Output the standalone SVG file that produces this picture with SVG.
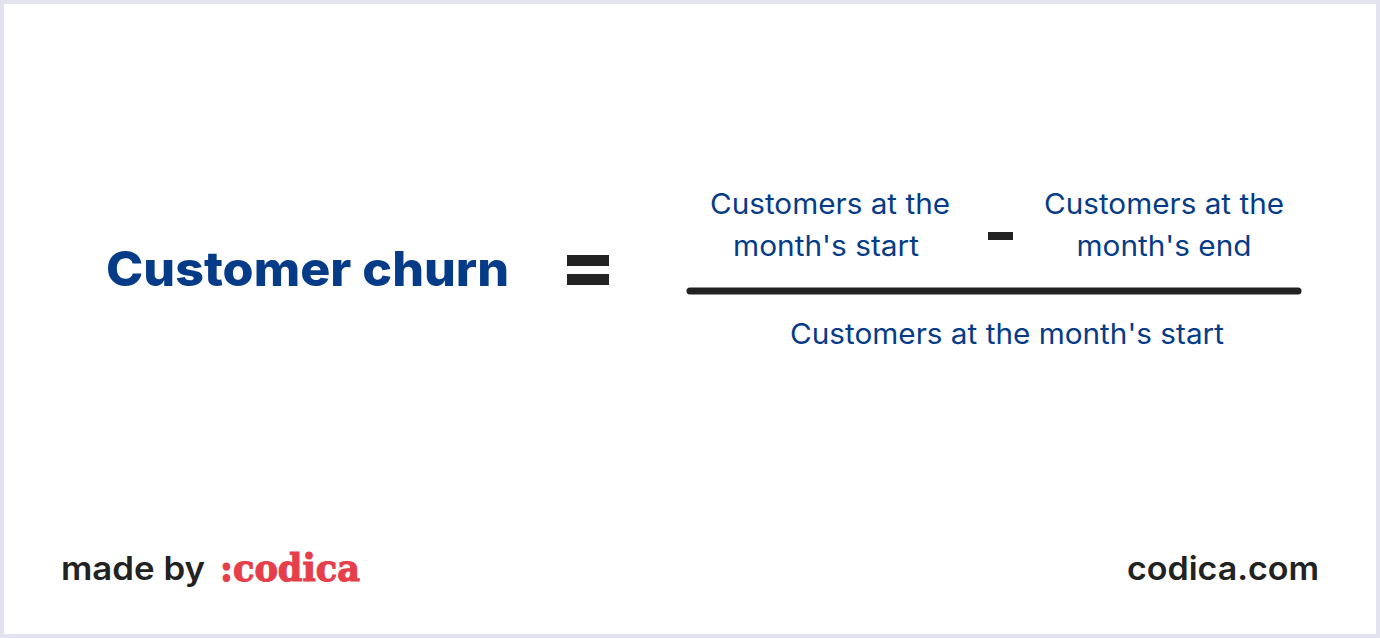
<svg xmlns="http://www.w3.org/2000/svg" width="1380" height="638" viewBox="0 0 1380 638">
<style>
.b{fill:#063c87;font-size:28px;text-anchor:middle;font-weight:400;font-family:"Inter","Open Sans",sans-serif}
.k{fill:#222222;font-size:32px;font-weight:600;font-family:"Inter","Open Sans",sans-serif}
.s{fill:#222222}
</style>
<rect x="2" y="2" width="1376" height="634" fill="#fff" stroke="#e3e3f0" stroke-width="4"/>
<g id="title"><text x="106" y="286" style="fill:#063c87;font-size:48px;font-weight:800;font-family:Inter,sans-serif" textLength="403" lengthAdjust="spacingAndGlyphs">Customer churn</text></g>
<g id="equals"><rect class="s" x="567" y="255" width="42" height="11"/><rect class="s" x="567" y="274" width="42" height="11"/></g>
<g id="a"><text class="b" x="830" y="214" textLength="240" lengthAdjust="spacingAndGlyphs">Customers at the</text><text class="b" x="826" y="256" textLength="186" lengthAdjust="spacingAndGlyphs">month's start</text></g>
<g id="minus"><rect class="s" x="988" y="232" width="25" height="8"/></g>
<g id="c"><text class="b" x="1164" y="214" textLength="240" lengthAdjust="spacingAndGlyphs">Customers at the</text><text class="b" x="1164" y="256" textLength="175" lengthAdjust="spacingAndGlyphs">month's end</text></g>
<g id="connectors"><line x1="690" y1="291" x2="1298" y2="291" stroke="#222222" stroke-width="7" stroke-linecap="round"/></g>
<g id="d"><text class="b" x="1007" y="344" textLength="434" lengthAdjust="spacingAndGlyphs">Customers at the month's start</text></g>
<g id="made"><text class="k" x="61" y="580" textLength="144" lengthAdjust="spacingAndGlyphs">made by</text></g>
<g id="logo"><text x="220" y="580.5" style="fill:#e63e4a;stroke:#e63e4a;stroke-width:1.2px;font-size:38px;font-weight:700;font-family:'DejaVu Serif',serif" textLength="140" lengthAdjust="spacingAndGlyphs">:codica</text></g>
<g id="site"><text class="k" x="1127" y="580" textLength="192" lengthAdjust="spacingAndGlyphs">codica.com</text></g>
</svg>
